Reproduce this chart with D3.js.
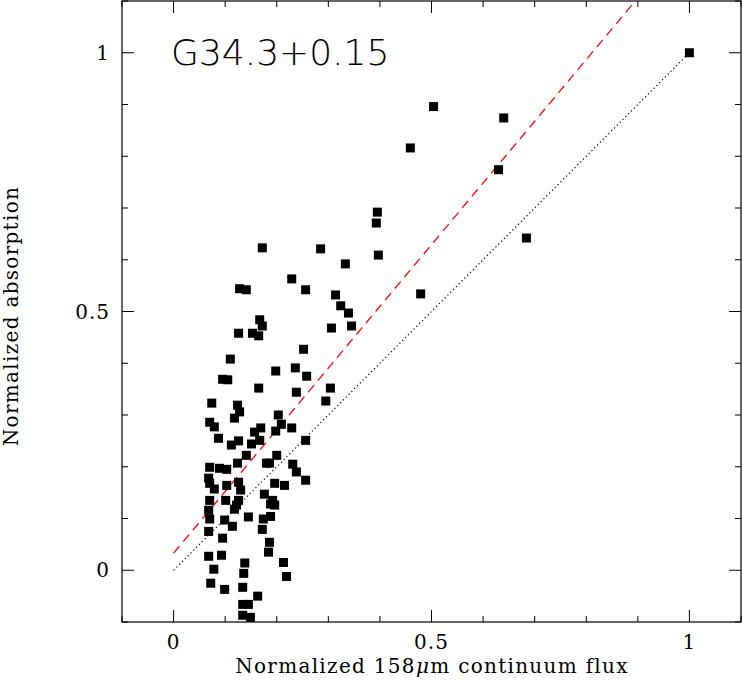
<!DOCTYPE html>
<html>
<head>
<meta charset="utf-8">
<script src="https://cdn.jsdelivr.net/npm/d3@7"></script>
<style>
body { margin: 0; background: #fff; }
text { font-family: "DejaVu Serif", serif; fill: #000; }
</style>
</head>
<body>
<script>
// normalized 158um continuum flux
var fluxX = [1.0,0.504,0.640,0.459,0.630,0.684,0.479,0.395,0.393,0.397,0.172,0.285,0.333,0.229,0.256,0.128,0.141,0.314,0.324,0.339,
  0.345,0.306,0.167,0.172,0.126,0.153,0.165,0.252,0.110,0.236,0.258,0.198,0.095,0.105,0.165,0.238,0.304,0.295,0.074,0.124,
  0.128,0.118,0.203,0.209,0.070,0.079,0.169,0.229,0.157,0.198,0.087,0.126,0.112,0.151,0.167,0.256,0.141,0.200,0.124,0.180,
  0.186,0.231,0.070,0.089,0.103,0.238,0.068,0.070,0.079,0.103,0.126,0.130,0.196,0.215,0.256,0.176,0.070,0.101,0.126,0.122,
  0.118,0.192,0.188,0.196,0.068,0.070,0.099,0.114,0.145,0.174,0.188,0.068,0.172,0.095,0.186,0.184,0.068,0.093,0.078,0.138,
  0.136,0.213,0.219,0.072,0.099,0.134,0.163,0.134,0.145,0.134,0.149];
// normalized absorption
var absY = [1.0,0.896,0.874,0.816,0.774,0.642,0.534,0.692,0.671,0.609,0.623,0.621,0.592,0.563,0.542,0.544,0.542,0.532,0.511,0.497,
  0.472,0.468,0.484,0.472,0.458,0.458,0.453,0.427,0.408,0.391,0.375,0.385,0.369,0.368,0.352,0.344,0.352,0.327,0.323,0.319,
  0.306,0.294,0.300,0.282,0.286,0.277,0.275,0.275,0.267,0.269,0.255,0.250,0.242,0.244,0.251,0.251,0.222,0.222,0.207,0.207,
  0.207,0.205,0.199,0.197,0.195,0.190,0.178,0.168,0.157,0.164,0.170,0.155,0.168,0.164,0.174,0.147,0.135,0.135,0.135,0.126,
  0.118,0.135,0.128,0.126,0.116,0.099,0.097,0.085,0.103,0.099,0.104,0.075,0.079,0.062,0.054,0.035,0.027,0.029,0.002,0.014,
  -0.006,0.015,-0.012,-0.025,-0.037,-0.033,-0.050,-0.066,-0.066,-0.087,-0.091];
var majorTicks = [0, 0.5, 1];
var tickLabels = ["0", "0.5", "1"];
var fitLine = [[0, 0.033], [0.895, 1.1]];   // red dashed fit
var unityLine = [[0, 0], [1, 1]];           // dotted y = x

var width = 743, height = 681;
var mLeft = 122, mRight = 741, mTop = 1, mBottom = 622;

var svg = d3.select("body").append("svg").attr("width", width).attr("height", height);

var x = d3.scaleLinear().domain([-0.1, 1.1]).range([mLeft, mRight]);
var y = d3.scaleLinear().domain([-0.1, 1.1]).range([mBottom, mTop]);

var minorTicks = d3.range(-0.1, 1.101, 0.1).map(function(d){ return Math.round(d*10)/10; });

//frame
svg.append("rect").attr("x", mLeft).attr("y", mTop).attr("width", mRight-mLeft).attr("height", mBottom-mTop)
  .attr("fill", "none").attr("stroke", "#000").attr("stroke-width", 1.2);

//inside ticks on all four sides
var g = svg.append("g").attr("stroke", "#000").attr("stroke-width", 1);
minorTicks.forEach(function(t){
  var len = majorTicks.indexOf(t) >= 0 ? 12 : 6;
  g.append("line").attr("x1", x(t)).attr("x2", x(t)).attr("y1", mBottom).attr("y2", mBottom-len);
  g.append("line").attr("x1", x(t)).attr("x2", x(t)).attr("y1", mTop).attr("y2", mTop+len);
  g.append("line").attr("y1", y(t)).attr("y2", y(t)).attr("x1", mLeft).attr("x2", mLeft+len);
  g.append("line").attr("y1", y(t)).attr("y2", y(t)).attr("x1", mRight).attr("x2", mRight-len);
});

majorTicks.forEach(function(t, i){
  svg.append("text").attr("x", x(t)).attr("y", mBottom+27).attr("text-anchor", "middle")
    .attr("font-size", 20).style("letter-spacing", "1px").text(tickLabels[i]);
  svg.append("text").attr("x", mLeft-12).attr("y", y(t)+7).attr("text-anchor", "end")
    .attr("font-size", 20).style("letter-spacing", "1px").text(tickLabels[i]);
});

//axis labels
var xl = svg.append("text").attr("x", 432).attr("y", 673).attr("text-anchor", "middle")
  .attr("font-size", 20).style("letter-spacing", "1.3px");
xl.append("tspan").text("Normalized 158");
xl.append("tspan").attr("font-style", "italic").text("μ");
xl.append("tspan").text("m continuum flux");
svg.append("text").attr("transform", "translate(18,316) rotate(-90)").attr("text-anchor", "middle")
  .attr("font-size", 20).style("letter-spacing", "1.3px").text("Normalized absorption");

svg.append("text").attr("x", 171).attr("y", 65).attr("font-size", 36)
  .style("font-family", "'DejaVu Sans', sans-serif").style("font-weight", 300).text("G34.3+0.15");

var line = d3.line().x(function(d){ return x(d[0]); }).y(function(d){ return y(d[1]); });
svg.append("defs").append("clipPath").attr("id", "clip").append("rect")
  .attr("x", mLeft).attr("y", mTop).attr("width", mRight-mLeft).attr("height", mBottom-mTop);

svg.append("path").datum(fitLine).attr("d", line).attr("fill", "none")
  .attr("stroke", "#f00").attr("stroke-width", 1.3).attr("stroke-dasharray", "9,6").attr("clip-path", "url(#clip)");
svg.append("path").datum(unityLine).attr("d", line).attr("fill", "none")
  .attr("stroke", "#000").attr("stroke-width", 1.2).attr("stroke-dasharray", "1.2,2.8");

//data points
var s = 9;
svg.selectAll(".pt").data(fluxX).enter().append("rect").attr("class", "pt")
  .attr("x", function(d){ return x(d) - s/2; })
  .attr("y", function(d, i){ return y(absY[i]) - s/2; })
  .attr("width", s).attr("height", s).attr("fill", "#000");
</script>
</body>
</html>
